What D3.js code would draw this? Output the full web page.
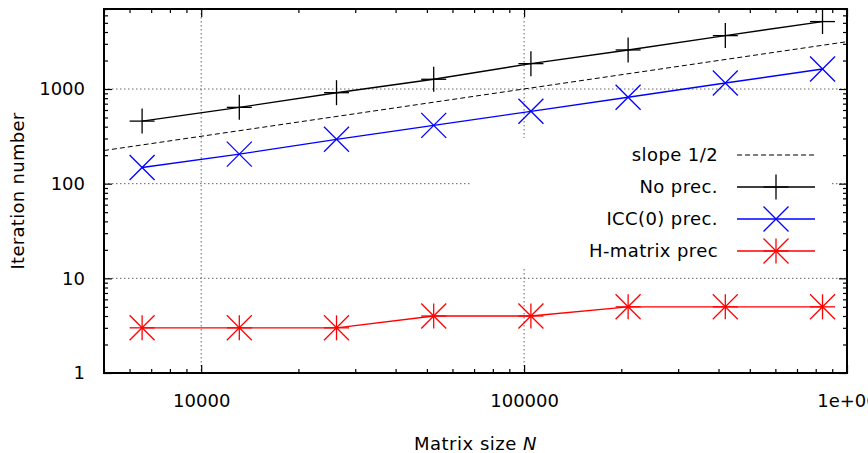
<!DOCTYPE html>
<html>
<head>
<meta charset="utf-8">
<script src="https://cdn.jsdelivr.net/npm/d3@7"></script>
<style>
html,body{margin:0;padding:0;background:#fff;}
svg{display:block;}
text{font-family:"DejaVu Sans",sans-serif;fill:#000;}
</style>
</head>
<body>
<svg id="chart" width="868" height="453"></svg>
<script>
// ---- data ----
const matrixSizes = [6561, 13122, 26244, 52488, 104976, 209952, 419904, 839808];
const noPrec   = [458, 640, 914, 1267, 1853, 2586, 3664, 5155];
const iccPrec  = [148, 205, 294, 413, 581, 817, 1157, 1628];
const hmatPrec = [3, 3, 3, 4, 4, 5, 5, 5];
const slopeX = [5000, 1000000];
const slopeY = [224, 3162];
const xMajorTicks = [10000, 100000, 1000000];
const xTickLabels = ["10000", "100000", "1e+06"];
const yMajorTicks = [1, 10, 100, 1000];
const yTickLabels = ["1", "10", "100", "1000"];
const legendLabels = ["slope 1/2", "No prec.", "ICC(0) prec.", "H-matrix prec"];

// ---- layout ----
const svg = d3.select("#chart");
const L = 104, R = 847, T = 9, B = 373;
const x = d3.scaleLog().domain([5000, 1000000]).range([L, R]);
const y = d3.scaleLog().domain([1, 7000]).range([B, T]);
const FS = 18;

// minor ticks
const xMinor = [];
[1000, 10000, 100000].forEach(d => { for (let k = 2; k <= 9; k++) { const v = d * k; if (v >= 5000 && v < 1000000) xMinor.push(v); } });
const yMinor = [];
[1, 10, 100, 1000].forEach(d => { for (let k = 2; k <= 9; k++) { const v = d * k; if (v <= 7000) yMinor.push(v); } });

// grid
const grid = svg.append("g").attr("stroke", "#666").attr("stroke-width", 1).attr("stroke-dasharray", "1.5,2.5");
[10000, 100000].forEach(v => grid.append("line").attr("x1", x(v)).attr("x2", x(v)).attr("y1", T).attr("y2", B));
[10, 100, 1000].forEach(v => grid.append("line").attr("x1", L).attr("x2", R).attr("y1", y(v)).attr("y2", y(v)));

// opaque key background
const keyBox = {x0: 472, x1: 832, y0: 138, y1: 267};
svg.append("rect").attr("x", keyBox.x0).attr("y", keyBox.y0)
  .attr("width", keyBox.x1 - keyBox.x0).attr("height", keyBox.y1 - keyBox.y0).attr("fill", "#fff");

// axes
function styleAxis(g) { g.select(".domain").remove(); g.selectAll("line").attr("stroke", "#000").attr("stroke-width", 1.2); g.selectAll("text").attr("font-size", FS).attr("font-family", "DejaVu Sans"); }
svg.append("g").attr("transform", `translate(0,${B})`)
  .call(d3.axisBottom(x).tickValues(xMajorTicks).tickSize(-8).tickPadding(21).tickFormat((d, i) => xTickLabels[i])).call(styleAxis);
svg.append("g").attr("transform", `translate(0,${B})`)
  .call(d3.axisBottom(x).tickValues(xMinor).tickSize(-4).tickFormat("")).call(styleAxis);
svg.append("g").attr("transform", `translate(0,${T})`)
  .call(d3.axisTop(x).tickValues(xMajorTicks).tickSize(-8).tickFormat("")).call(styleAxis);
svg.append("g").attr("transform", `translate(0,${T})`)
  .call(d3.axisTop(x).tickValues(xMinor).tickSize(-4).tickFormat("")).call(styleAxis);
svg.append("g").attr("transform", `translate(${L},0)`)
  .call(d3.axisLeft(y).tickValues(yMajorTicks).tickSize(-8).tickPadding(19).tickFormat((d, i) => yTickLabels[i])).call(styleAxis);
svg.append("g").attr("transform", `translate(${L},0)`)
  .call(d3.axisLeft(y).tickValues(yMinor).tickSize(-4).tickFormat("")).call(styleAxis);
svg.append("g").attr("transform", `translate(${R},0)`)
  .call(d3.axisRight(y).tickValues(yMajorTicks).tickSize(-8).tickFormat("")).call(styleAxis);
svg.append("g").attr("transform", `translate(${R},0)`)
  .call(d3.axisRight(y).tickValues(yMinor).tickSize(-4).tickFormat("")).call(styleAxis);

// border
svg.append("rect").attr("x", L).attr("y", T).attr("width", R - L).attr("height", B - T)
  .attr("fill", "none").attr("stroke", "#000").attr("stroke-width", 2);

// axis titles
const xt = svg.append("text").attr("x", (L + R) / 2).attr("y", 450).attr("text-anchor", "middle").attr("font-size", FS)
  .attr("letter-spacing", "0.5px");
xt.append("tspan").text("Matrix size ");
xt.append("tspan").attr("font-style", "italic").text("N");
svg.append("text").attr("transform", `translate(24,${(T + B) / 2}) rotate(-90)`).attr("text-anchor", "middle")
  .attr("font-size", FS).attr("letter-spacing", "0.3px").text("Iteration number");

// markers
const MS = 12.5;
function drawMarker(g, type, cx, cy, color) {
  const m = g.append("g").attr("stroke", color).attr("stroke-width", 1.3).attr("fill", "none");
  if (type === "plus" || type === "star") {
    m.append("line").attr("x1", cx - MS).attr("x2", cx + MS).attr("y1", cy).attr("y2", cy);
    m.append("line").attr("x1", cx).attr("x2", cx).attr("y1", cy - MS).attr("y2", cy + MS);
  }
  if (type === "cross" || type === "star") {
    m.append("line").attr("x1", cx - MS).attr("x2", cx + MS).attr("y1", cy - MS).attr("y2", cy + MS);
    m.append("line").attr("x1", cx - MS).attr("x2", cx + MS).attr("y1", cy + MS).attr("y2", cy - MS);
  }
}

const plotArea = svg.append("g");
// slope line
plotArea.append("path").datum(slopeX.map((v, i) => [v, slopeY[i]]))
  .attr("d", d3.line().x(d => x(d[0])).y(d => y(d[1])))
  .attr("fill", "none").attr("stroke", "#000").attr("stroke-width", 1).attr("stroke-dasharray", "5,3");

const series = [
  {vals: noPrec, color: "#000000", marker: "plus"},
  {vals: iccPrec, color: "#0000ff", marker: "cross"},
  {vals: hmatPrec, color: "#ff0000", marker: "star"}
];
series.forEach(s => {
  const pts = matrixSizes.map((n, i) => [n, s.vals[i]]);
  plotArea.append("path").datum(pts)
    .attr("d", d3.line().x(d => x(d[0])).y(d => y(d[1])))
    .attr("fill", "none").attr("stroke", s.color).attr("stroke-width", 1.4);
  pts.forEach(p => drawMarker(plotArea, s.marker, x(p[0]), y(p[1]), s.color));
});

// legend
const legY = [155, 187, 219, 251];
const legTextX = 718, legL0 = 737, legL1 = 815, legM = 776;
const legend = svg.append("g");
legendLabels.forEach((lab, i) => {
  legend.append("text").attr("x", legTextX).attr("y", legY[i]).attr("dy", "0.35em")
    .attr("text-anchor", "end").attr("font-size", FS).attr("letter-spacing", "0.4px").text(lab);
  if (i === 0) {
    legend.append("line").attr("x1", legL0).attr("x2", legL1).attr("y1", legY[i]).attr("y2", legY[i])
      .attr("stroke", "#000").attr("stroke-width", 1).attr("stroke-dasharray", "5,3");
  } else {
    const s = series[i - 1];
    legend.append("line").attr("x1", legL0).attr("x2", legL1).attr("y1", legY[i]).attr("y2", legY[i])
      .attr("stroke", s.color).attr("stroke-width", 1.4);
    drawMarker(legend, s.marker, legM, legY[i], s.color);
  }
});
</script>
</body>
</html>
